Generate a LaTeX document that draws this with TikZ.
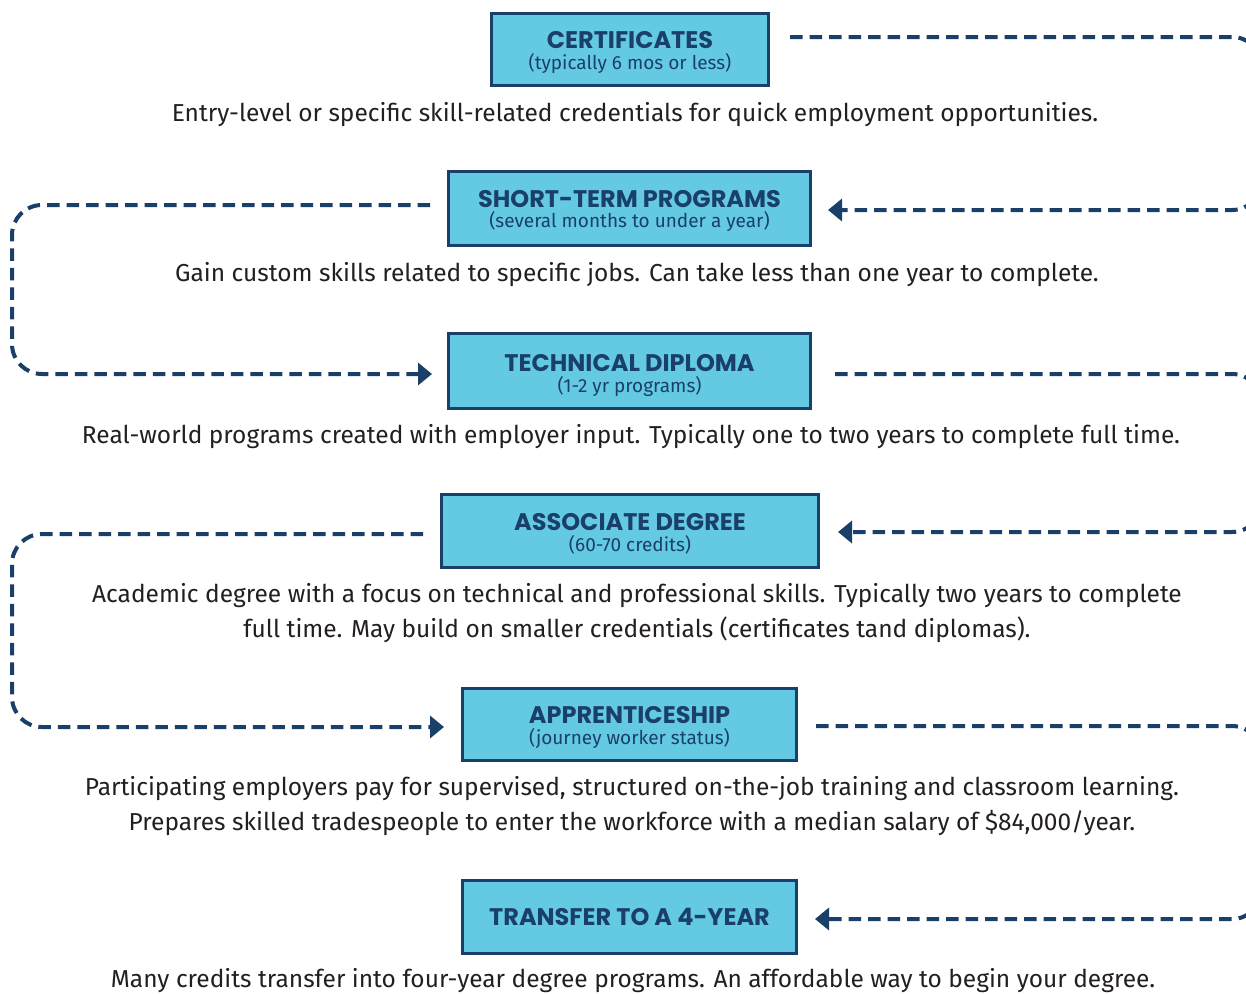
\documentclass[tikz,border=0pt]{standalone}
\usepackage{fontspec}
\setmainfont{Fira Sans}
\newfontfamily\headfont{Poppins}
\usetikzlibrary{arrows.meta}
\definecolor{navy}{HTML}{1A3F68}
\definecolor{boxfill}{HTML}{64CAE4}
\definecolor{bodytext}{HTML}{231F20}
\begin{document}
\begin{tikzpicture}[x=1pt,y=-1pt,
  box/.style={draw=navy, line width=3pt, fill=boxfill, inner sep=0pt},
  ttl/.style={text=navy, anchor=base, inner sep=0pt, font=\headfont\bfseries\fontsize{24}{28}\selectfont},
  subt/.style={text=navy, anchor=base, inner sep=0pt, font=\fontsize{19}{22}\selectfont},
  conn/.style={draw=navy, line width=4pt, dash pattern=on 12.5pt off 7pt, rounded corners=30pt},
  tip/.style={-{Triangle[length=14pt,width=22pt]}},
  desc/.style={text=bodytext, font=\fontsize{24.5}{35}\selectfont, align=center}]
\useasboundingbox (0,0) rectangle (1246,993);

\node[box, minimum width=277pt, minimum height=72pt] (cert) at (630,49.5) {};
\node[ttl] (certT) at ([yshift=1]cert.center) {CERTIFICATES};
\node[subt] (certS) at ([yshift=-20]cert.center) {(typically 6 mos or less)};

\node[box, minimum width=362pt, minimum height=74pt] (short) at (629.5,208.5) {};
\node[ttl] (shortT) at ([yshift=1]short.center) {SHORT-TERM PROGRAMS};
\node[subt] (shortS) at ([yshift=-19]short.center) {(several months to under a year)};

\node[box, minimum width=362pt, minimum height=75pt] (tech) at (629.5,371) {};
\node[ttl] (techT) at ([yshift=-0.5]tech.center) {TECHNICAL DIPLOMA};
\node[subt] (techS) at ([yshift=-21]tech.center) {(1-2 yr programs)};

\node[box, minimum width=377pt, minimum height=73pt] (assoc) at (630,531) {};
\node[ttl] (assocT) at ([yshift=0.5]assoc.center) {ASSOCIATE DEGREE};
\node[subt] (assocS) at ([yshift=-20]assoc.center) {(60-70 credits)};

\node[box, minimum width=334pt, minimum height=72pt] (appr) at (629.5,724.5) {};
\node[ttl] (apprT) at ([yshift=1]appr.center) {APPRENTICESHIP};
\node[subt] (apprS) at ([yshift=-19.5]appr.center) {(journey worker status)};

\node[box, minimum width=334pt, minimum height=73pt] (trans) at (629.5,917) {};
\node[ttl] (transT) at ([yshift=-8.5]trans.center) {TRANSFER TO A 4-YEAR};

\node[desc] (d1) at (635,115) {Entry-level or specific skill-related credentials for quick employment opportunities.};
\node[desc] (d2) at (637,275) {Gain custom skills related to specific jobs. Can take less than one year to complete.};
\node[desc] (d3) at (631,437) {Real-world programs created with employer input. Typically one to two years to complete full time.};
\node[desc] (d4) at (637,613.5) {Academic degree with a focus on technical and professional skills. Typically two years to complete\\full time. May build on smaller credentials (certificates tand diplomas).};
\node[desc] (d5) at (632,806.5) {Participating employers pay for supervised, structured on-the-job training and classroom learning.\\Prepares skilled tradespeople to enter the workforce with a median salary of \$84,000/year.};
\node[desc] (d6) at (633,981) {Many credits transfer into four-year degree programs. An affordable way to begin your degree.};

% right loops
\draw[conn, tip] ([shift={(20,-12.5)}]cert.east) -- (1262,37) -- (1262,210) -- ([shift={(16,1.5)}]short.east);
\draw[conn, tip] ([shift={(23,3)}]tech.east) -- (1262,374) -- (1262,532) -- ([shift={(18,1)}]assoc.east);
\draw[conn, tip] ([shift={(18,1.5)}]appr.east) -- (1262,726) -- (1262,919) -- ([shift={(17,2)}]trans.east);
% left loops
\draw[conn, tip] ([shift={(-17,-3.5)}]short.west) -- (12,205) -- (12,374) -- ([shift={(-15,3)}]tech.west);
\draw[conn, tip] ([shift={(-17,3)}]assoc.west) -- (12,534) -- (12,727) -- ([shift={(-17,2.5)}]appr.west);
\end{tikzpicture}
\end{document}
